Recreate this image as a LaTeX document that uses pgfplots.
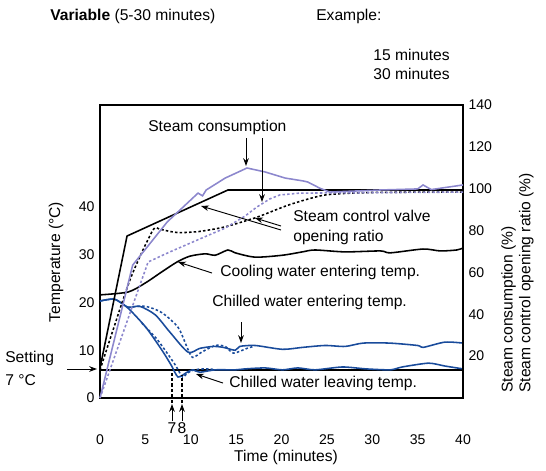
\documentclass[border=0pt]{standalone}
\usepackage{fontspec}
\setmainfont{Liberation Sans}
\usepackage{pgfplots}
\pgfplotsset{compat=1.18}
\usetikzlibrary{arrows.meta}
\definecolor{cblue}{RGB}{25,75,155}
\definecolor{cpurple}{RGB}{140,135,205}
\begin{document}
\begin{tikzpicture}
\pgfplotsset{
  base/.style={
    scale only axis, width=232.32pt, height=187.52pt,
    xmin=0, xmax=40, clip=false,
    tick style={draw=none},
    tick label style={font=\fontsize{9}{10}\selectfont},
    /pgf/number format/assume math mode=true,
    axis line style={line width=0.8pt},
  },
  sol/.style={line width=1pt},
  dot/.style={line width=1pt, dash pattern=on 1.6pt off 1.4pt},
}
% ---------------- temperature axis (left) ----------------
\begin{axis}[base, name=T, ymin=0, ymax=61.36,
  xtick={0,5,...,40}, ytick={0,10,20,30,40},
  xticklabel style={yshift=-20pt}]
% Setting line (7 C)
\addplot[black, line width=1.2pt] coordinates {(0,5.86) (40,5.86)};
% Cooling water entering temp.
\addplot[black, sol, smooth, tension=0.45] coordinates {
(0,21.6) (3.1,22.2) (5.0,24.1) (6.8,26.4) (8.5,28.5) (9.9,29.7) (11.6,30.2)
(12.7,29.9) (14.1,31.0) (14.9,30.4) (17.1,29.5) (20.1,29.9) (22.3,30.6)
(23.7,31.0) (27.0,30.6) (30.9,30.8) (32.0,30.4) (35.6,31.2) (37.5,30.8)
(39.3,31.0) (40,31.4)};
% Chilled water entering temp. (15 min)
\addplot[cblue, sol, smooth, tension=0.45] coordinates {
(0,20.3) (1.6,20.7) (3.1,19.0) (4.4,19.2) (6.1,17.4) (7.7,13.8) (9.7,9.6)
(11.0,10.4) (12.5,10.8) (13.6,10.6) (14.9,10.0) (15.4,10.8) (17.1,11.0)
(20.1,10.2) (22.3,10.6) (24.8,11.0) (27.0,10.8) (29.0,11.5) (31.9,11.5)
(35.0,11.0) (35.6,10.6) (38.0,11.7) (40,11.5)};
% Chilled water entering temp. (30 min)
\addplot[cblue, dot, smooth, tension=0.45] coordinates {
(3.1,19.0) (5.0,19.2) (6.8,17.9) (8.6,14.8) (9.6,10.6) (10.2,8.5) (11.2,9.6)
(12.7,11.0) (13.8,10.8) (14.7,9.4) (16.2,10.4) (16.9,10.8)};
% Chilled water leaving temp. (15 min)
\addplot[cblue, sol, smooth, tension=0.4] coordinates {
(0,20.3) (1.6,20.7) (3.1,18.8) (5.1,14.7) (6.9,9.8) (7.9,6.7) (8.6,4.4)
(9.6,5.4) (10.2,5.9) (11.0,5.4) (12.7,5.9) (14.9,5.9) (16.0,6.1) (18.2,6.3)
(20.1,5.9) (21.8,6.3) (23.7,5.9) (26.7,6.5) (29.3,6.1) (32.0,5.9) (33.3,6.5)
(36.2,7.3) (38.0,6.7) (40,6.1)};
% Chilled water leaving temp. (30 min)
\addplot[cblue, dot, smooth, tension=0.4] coordinates {
(4.6,15.7) (6.2,12.5) (7.4,9.4) (8.3,6.9) (9.1,4.4) (9.6,5.2) (10.4,5.9)
(11.5,6.1) (12.5,6.0)};
\end{axis}
% ---------------- steam axis (right) ----------------
\begin{axis}[base, ymin=0, ymax=140,
  axis x line=none, axis y line*=right,
  ytick={20,40,...,140}]
% Steam control valve opening ratio (15 min)
\addplot[black, sol] coordinates {(0,14.3) (2.98,77.4) (14.1,99.4) (40,99.4)};
% Steam control valve opening ratio (30 min)
\addplot[black, dot, smooth, tension=0.4] coordinates {
(0,13.4) (3.3,56.4) (5.8,80.0) (6.6,80.6) (7.7,79.6) (8.8,79.0) (11.0,79.6)
(13.8,81.8) (17.3,86.4) (20.9,92.4) (24.8,97.0) (30,98.2) (40,98.4)};
% Steam consumption (15 min)
\addplot[cpurple, sol] coordinates {
(0,0) (3.6,63.5) (7.4,84.1) (10.8,97.9) (11.3,96.6) (11.7,99.4) (13.8,105.1)
(16.2,109.9) (18.2,108.0) (20.4,105.1) (22.4,103.7) (22.9,103.2) (24.2,100.3)
(25.3,98.4) (30.9,99.4) (35.0,99.9) (35.6,101.8) (36.5,99.6) (40,101.8)};
% Steam consumption (30 min)
\addplot[cpurple, dot] coordinates {
(0,0) (5.3,65.0) (7.7,69.8) (11.0,76.0) (13.8,81.2) (16.0,87.0) (17.3,91.3)
(18.7,95.1) (19.8,97.0) (22.0,97.9) (40,98.4)};
\end{axis}
% ---------------- annotations (pixel frame of the figure) ----------------
\begin{scope}[shift={(T.south west)}, xshift=-64pt, yshift=254.72pt,
  x=0.64pt, y=-0.64pt, every node/.style={inner sep=0pt, font=\fontsize{10}{12}\selectfont},
  arr/.style={line width=0.6pt, -{Stealth[length=5pt,width=3.6pt]}}]
\node[anchor=west] at (50,16) {\textbf{Variable} (5-30 minutes)};
\node[anchor=west] at (316,16) {Example:};
\node[anchor=west] at (373,55) {15 minutes};
\node[anchor=west] at (373,74) {30 minutes};
\node[anchor=west] at (148,127) {Steam consumption};
\node[anchor=west] at (293,216) {Steam control valve};
\node[anchor=west] at (293,237) {opening ratio};
\node[anchor=west] at (220,272) {Cooling water entering temp.};
\node[anchor=west] at (212,302) {Chilled water entering temp.};
\node[anchor=west] at (229,383) {Chilled water leaving temp.};
\node[anchor=west] at (5,358) {Setting};
\node[anchor=west] at (5,380) {7 °C};
\node[rotate=90] at (56,262) {Temperature (°C)};
\node at (286,457) {Time (minutes)};
\node[rotate=90, anchor=north west, align=left, font=\fontsize{10}{11.3}\selectfont] at (501,393)
  {Steam consumption (\%)\\Steam control opening ratio (\%)};
\node at (172,428) {7};
\node at (182,428) {8};
\draw[arr] (246,138) -- (246,166);
\draw[arr] (262,138) -- (262,202);
\draw[arr] (281,230) -- (201,206);
\draw[arr] (281,226) -- (255,218);
\draw[arr] (212,273) -- (178,262);
\draw[arr] (241,322) -- (241,343);
\draw[arr] (223,383) -- (196,374);
\draw[arr] (67,369) -- (97,369);
\draw[arr] (172,421) -- (172,404);
\draw[arr] (182,421) -- (182,404);
\draw[line width=0.7pt, dash pattern=on 2pt off 1.5pt] (172,403) -- (172,372);
\draw[line width=0.7pt, dash pattern=on 2pt off 1.5pt] (182,403) -- (182,375);
\pgfresetboundingbox
\path[use as bounding box] (0,0) rectangle (546,470);
\end{scope}
\end{tikzpicture}
\end{document}
